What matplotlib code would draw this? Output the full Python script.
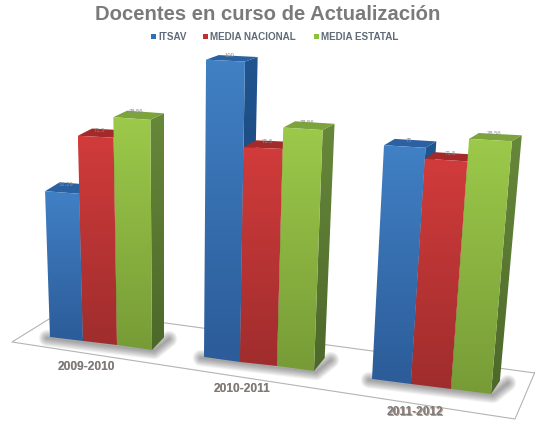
import numpy as np
import matplotlib
matplotlib.use('Agg')
import matplotlib.pyplot as plt
from matplotlib.patches import Polygon, Rectangle
from matplotlib.colors import LinearSegmentedColormap

plt.rcParams['font.family'] = ['Liberation Sans', 'DejaVu Sans']

categories = ['2009-2010', '2010-2011', '2011-2012']
series = ['ITSAV', 'MEDIA NACIONAL', 'MEDIA ESTATAL']
itsav = [51.29, 100, 75]
media_nacional = [71.5, 71.5, 71.5]
media_estatal = [78.56, 78.56, 78.56]
value_labels = [['51.29', '100', '75'], ['71.5', '71.5', '71.5'], ['78.56', '78.56', '78.56']]

# front base corners on the page for each group (left edge of each bar + right edge of last)
base_x = [[50, 83, 117, 152], [204, 240, 277, 314], [372, 411, 451, 491]]
base_y = [[337, 341, 345, 350], [357, 362, 366, 371], [379, 384, 389, 394]]

# front top, front bottom, side top, side bottom, top face
colors = [('#4080c4', '#2c5c99', '#20558f', '#173f6c', '#2b61a3'),
          ('#d13b3b', '#a02d2d', '#8a2525', '#6d1d1d', '#a42a2a'),
          ('#9cc94a', '#779c37', '#67883a', '#4d682a', '#7ca33c')]


def scale(x):
    # px per unit grows to the right because of the perspective
    return 2.80 + 0.00085 * x


def lean(x, h):
    return (x - 178) * h / 3780.0


def grad_poly(ax, pts, c1, c2, z):
    pts = np.array(pts)
    cm = LinearSegmentedColormap.from_list('g', [c1, c2])
    g = np.linspace(0, 1, 64).reshape(-1, 1)
    ext = [pts[:, 0].min(), pts[:, 0].max(), pts[:, 1].max(), pts[:, 1].min()]
    im = ax.imshow(g, cmap=cm, extent=ext, aspect='auto', zorder=z, interpolation='bilinear')
    im.set_clip_path(Polygon(pts, closed=True, transform=ax.transData))


fig = plt.figure(figsize=(5.35, 4.21), dpi=100)
ax = fig.add_axes([0, 0, 1, 1])

# floor
ax.plot([62, 12, 515, 535], [311, 342, 419, 372], color='#b4b4b4', lw=0.8, zorder=1)
ax.plot([62, 535], [309, 373], color='#b4b4b4', lw=0.8, zorder=1)

values = [itsav, media_nacional, media_estatal]
z = 3
for g in range(3):
    bx = base_x[g]
    by = base_y[g]
    # soft shadow under the front edge
    for lw in range(1, 13):
        ax.plot([bx[0] - 3, bx[3] + 2, bx[3] + 17], [by[0] + 1, by[3] + 1, by[3] - 11],
                color='#303030', lw=lw, alpha=0.045, zorder=2, solid_capstyle='round')
    for s in range(3):
        v = values[s][g]
        c = colors[s]
        x0, x1 = bx[s], bx[s + 1]
        y0, y1 = by[s], by[s + 1]
        h0 = v * scale(x0)
        h1 = v * scale(x1)
        tl = (x0 + lean(x0, h0), y0 - h0)
        tr = (x1 + lean(x1, h1), y1 - h1)
        ddx = 15.5 - 0.0115 * x1
        dy_top = -13 + 0.028 * h1
        dy_base = -13
        # side
        grad_poly(ax, [tr, (tr[0] + ddx, tr[1] + dy_top), (x1 + ddx * 0.9, y1 + dy_base), (x1, y1)], c[2], c[3], z)
        # top face
        ax.add_patch(Polygon([tl, (tl[0] + ddx, tl[1] + dy_top), (tr[0] + ddx, tr[1] + dy_top), tr],
                             closed=True, fc=c[4], ec='none', zorder=z))
        # front
        grad_poly(ax, [tl, tr, (x1, y1), (x0, y0)], c[0], c[1], z + 0.5)
        ax.text(tl[0] + (tr[0] - tl[0]) * 0.5 + 4, tl[1] + dy_top * 0.5 - 2, value_labels[s][g],
                fontsize=4.2, color='#8c8c8c', ha='center', va='center', zorder=z + 1)
        z += 1

# category labels
label_pos = [(86, 367), (242, 389), (415, 412)]
for name, (x, y) in zip(categories, label_pos):
    ax.text(x + 0.5, y + 0.5, name, fontsize=8.6, fontweight='bold', color='#b89a8a', ha='center', va='center', zorder=50)
    ax.text(x, y, name, fontsize=8.6, fontweight='bold', color='#7b7b7b', ha='center', va='center', zorder=51)

ax.text(268, 15, 'Docentes en curso de Actualización', fontsize=14.6, fontweight='bold',
        color='#7a7a7a', ha='center', va='center', zorder=50)

# legend
legend_x = [151, 203, 314]
legend_colors = ['#2f6fb5', '#c0302f', '#8fbf3f']
for name, x, col in zip(series, legend_x, legend_colors):
    ax.add_patch(Rectangle((x, 34), 5, 5, fc=col, ec='none', zorder=50))
    ax.text(x + 7, 36.5, name, fontsize=7.1, fontweight='bold', color='#5f6b78', ha='left', va='center', zorder=50)

ax.set_xlim(0, 535)
ax.set_ylim(421, 0)
ax.axis('off')
fig.savefig('out.png', dpi=100, facecolor='white')
